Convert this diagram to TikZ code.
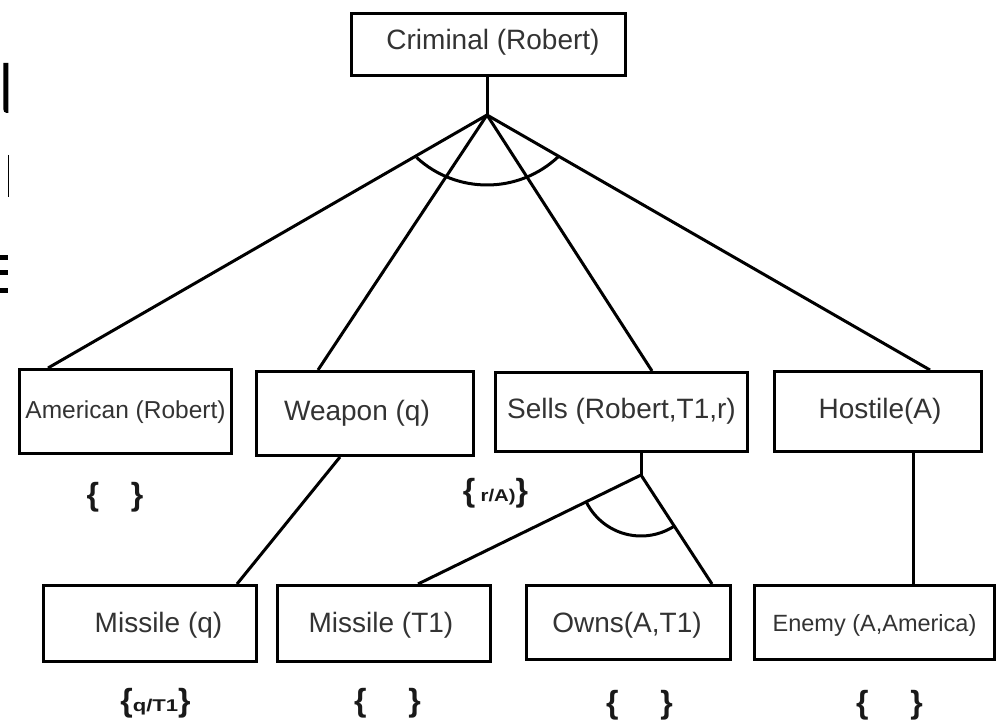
\documentclass[tikz,border=0pt]{standalone}
\usepackage{graphicx}
\usepackage{fontspec}
\setmainfont{Liberation Sans}
\usetikzlibrary{calc}
\begin{document}
\begin{tikzpicture}[x=1pt,y=1pt,
  box/.style={draw=black,line width=3pt,inner sep=0pt,font=\fontsize{28}{32}\selectfont,text=black!80,text height=20pt,text depth=6pt},
  conn/.style={line width=3pt},
  sub/.style={font=\fontsize{32}{36}\selectfont\bfseries,text=black!90,inner sep=0pt}]
\useasboundingbox (0,0) rectangle (1004,721);
\fill[white] (0,0) rectangle (1004,721);

% fragments at the left edge
\fill (3.3,658) -- (8.3,658) -- (8.3,608) -- (6.5,608) to[out=180,in=-90] (3.3,612) -- cycle;
\draw[line width=1.2pt] (8.5,566) -- (8.5,524);
\fill (0,466) rectangle (8,461);
\fill (0,451) rectangle (8,446);
\fill (0,433) rectangle (8,428);

% nodes
\node[box,minimum width=274pt,minimum height=62pt] (crim) at (488.5,676.5) {\raisebox{2pt}{\hspace*{9pt}Criminal (Robert)}};

\node[box,font=\fontsize{24.5}{28}\selectfont,minimum width=212pt,minimum height=84pt] (am) at (125.5,309.5) {American (Robert)};
\node[box,minimum width=217pt,minimum height=84pt] (wp) at (365,307.5) {\hspace*{-16pt}Weapon (q)};
\node[box,minimum width=252pt,minimum height=79pt] (se) at (621.5,309) {Sells (Robert,T1,r)};
\node[box,minimum width=207pt,minimum height=80pt] (ho) at (878,309.5) {\hspace*{4pt}Hostile(A)};

\node[box,minimum width=213pt,minimum height=76pt] (mq) at (150,97.5) {\raisebox{-2pt}{\hspace*{17pt}Missile (q)}};
\node[box,minimum width=213pt,minimum height=76pt] (mt) at (384,97.5) {\raisebox{-2pt}{\hspace*{-6pt}Missile (T1)}};
\node[box,minimum width=204pt,minimum height=74pt] (ow) at (628.5,98.5) {\raisebox{-3pt}{\hspace*{-3pt}Owns(A,T1)}};
\node[box,font=\fontsize{23.5}{28}\selectfont,minimum width=240pt,minimum height=74pt] (en) at (874.5,98.5) {\raisebox{-2pt}{Enemy (A,America)}};

% coordinates
\coordinate (apex) at (487,606);
\coordinate (subapex) at (641,246);
\coordinate (mainc) at (487,640);

% connectors
\draw[conn] (crim.south -| apex) -- (apex);
\draw[conn] (apex) -- (48,0 |- am.north);
\draw[conn] (apex) -- (318,0 |- wp.north);
\draw[conn] (apex) -- (652,0 |- se.north);
\draw[conn] (apex) -- (930,0 |- ho.north);
\draw[conn] (340,0 |- wp.south) -- (237,0 |- mq.north);
\draw[conn] (se.south -| subapex) -- (subapex);
\draw[conn] (subapex) -- (418,0 |- mt.north);
\draw[conn] (subapex) -- (712,0 |- ow.north);
\draw[conn] (913,0 |- ho.south) -- (913,0 |- en.north);

% and-arcs
\draw[conn] ([shift={(227.3:104)}]mainc) arc[start angle=227.3,end angle=313.4,radius=104pt];
\draw[conn] ([shift={(206:61)}]subapex) arc[start angle=206,end angle=303.1,radius=61pt];

% substitution labels
\node[sub] (b1) at (115,224) {\{\hspace{32pt}\}};
\node[sub] (b2) at (495.5,228) {\{\,{\fontsize{17}{18}\selectfont\scalebox{1.2}[1]{r/A)}}\}};
\node[sub] (b3) at (155.5,18) {\{{\fontsize{17}{18}\selectfont\scalebox{1.3}[1]{q/T1}}\}};
\node[sub] (b4) at (387.5,18) {\{\hspace{42pt}\}};
\node[sub] (b5) at (639.5,16) {\{\hspace{42pt}\}};
\node[sub] (b6) at (889.5,16) {\{\hspace{42pt}\}};
\end{tikzpicture}
\end{document}
